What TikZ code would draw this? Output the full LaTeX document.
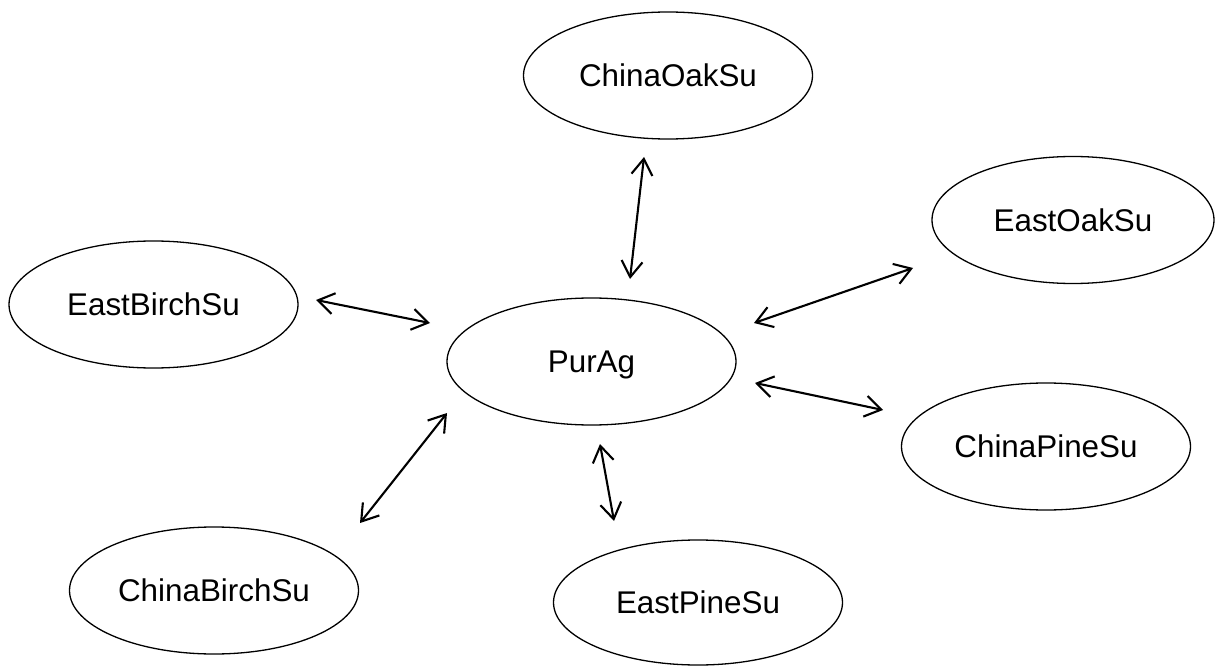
\documentclass[tikz,border=0pt]{standalone}
\usepackage{fontspec}
\setmainfont{Liberation Sans}
\usetikzlibrary{shapes.geometric,arrows.meta}
\tikzset{
  oval/.style={draw=black, line width=1.3bp, ellipse, inner sep=0pt,
    minimum width=289bp, minimum height=127bp,
    font=\fontsize{31.5}{36}\selectfont, text height=22.6bp, text depth=0pt},
  link/.style={draw=black, line width=2.1bp,
    {Straight Barb[length=16bp,width=21bp]}-{Straight Barb[length=16bp,width=21bp]}}
}
\begin{document}
\begin{tikzpicture}[x=1bp,y=-1bp]
\useasboundingbox (0,0) rectangle (1215,666);
\node[oval] (coak) at (668,75.5) {ChinaOakSu};
\node[oval, minimum width=282bp] (eoak) at (1073,220) {EastOakSu};
\node[oval] (ebirch) at (153.5,304.5) {EastBirchSu};
\node[oval] (purag) at (591.5,361.5) {PurAg};
\node[oval] (cpine) at (1046,446.5) {ChinaPineSu};
\node[oval] (cbirch) at (214,590.5) {ChinaBirchSu};
\node[oval, minimum height=125bp] (epine) at (698,602.5) {EastPineSu};

\coordinate (a1) at (644,157);   \coordinate (b1) at (630,279);
\coordinate (a2) at (913,268);   \coordinate (b2) at (754,323);
\coordinate (a3) at (316,300);   \coordinate (b3) at (430,323);
\coordinate (a4) at (755,383);   \coordinate (b4) at (883,410);
\coordinate (a5) at (447,413);   \coordinate (b5) at (360,523);
\coordinate (a6) at (600,444);   \coordinate (b6) at (614,521);

\draw[link] (a1) -- (b1);
\draw[link] (a2) -- (b2);
\draw[link] (a3) -- (b3);
\draw[link] (a4) -- (b4);
\draw[link] (a5) -- (b5);
\draw[link] (a6) -- (b6);
\end{tikzpicture}
\end{document}
